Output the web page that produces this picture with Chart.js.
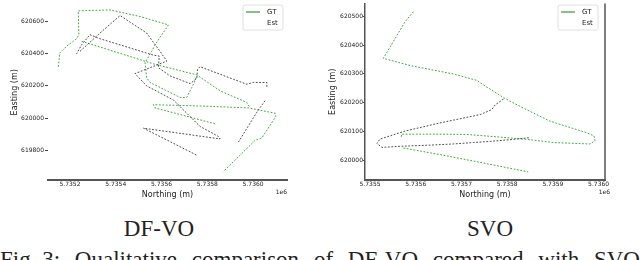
<!DOCTYPE html>
<html lang="en">
<head>
    <meta charset="UTF-8">
    <title>DF-VO vs SVO trajectories</title>
    <script src="https://cdn.jsdelivr.net/npm/chart.js"></script>
    <style>
        body { margin: 0; width: 640px; height: 260px; overflow: hidden; background: #fff; position: relative; }
        .plot { position: absolute; top: 0; width: 300px; height: 200px; }
        #plot-dfvo { left: 0; }
        #plot-svo { left: 320px; }
        .sub { position: absolute; top: 217px; width: 200px; text-align: center; font-family: "Liberation Serif", serif; font-size: 23px; line-height: 23px; color: #222; }
        .caption { position: absolute; left: 0; top: 248px; width: 640px; font-family: "Liberation Serif", serif; font-size: 23px; line-height: 23px; color: #222; white-space: nowrap; }
    </style>
</head>
<body>

    <div class="plot" id="plot-dfvo"><canvas id="chart-dfvo"></canvas></div>
    <div class="plot" id="plot-svo"><canvas id="chart-svo"></canvas></div>

    <div class="sub" style="left:59px;">DF-VO</div>
    <div class="sub" style="left:390px;">SVO</div>
    <div class="caption" style="display:flex; justify-content:space-between;">
        <span>Fig. 3:</span><span>Qualitative</span><span>comparison</span><span>of</span><span>DF-VO</span><span>compared</span><span>with</span><span>SVO</span>
    </div>

    <script>
        // DF-VO: northing / easting in metres (null = break in the track)
        const dfvoGtNorth = [
            5735149, 5735156, 5735185, 5735229, 5735239, 5735236, 5735375, 5735506, 5735630, 5735572,
            5735557, 5735528, 5735535, 5735550, 5735681, 5735710, 5735732, 5735746, 5735754, null,
            5735251, 5735564, 5735754, 5735856, 5735972, 5735987, null,
            5735834, 5735572, 5735564, 5735768, 5735979, 5736096, 5736099, 5736038, 5736009, 5735870
        ];
        const dfvoGtEast = [
            620319, 620405, 620446, 620493, 620518, 620666, 620672, 620631, 620579, 620456,
            620415, 620344, 620251, 620221, 620128, 620128, 620190, 620231, 620262, null,
            620477, 620337, 620268, 620169, 620097, 620063, null,
            619964, 620063, 620083, 620075, 620063, 620030, 620009, 619876, 619862, 619667
        ];
        const dfvoEstNorth = [
            5736052, 5736016, 5735936, null,
            5736060, 5736060, 5736001, 5735972, 5735914, 5735768, 5735757, 5735754, 5735725, 5735637,
            5735586, 5735590, 5735564, 5735331, 5735287, 5735251, 5735229, null,
            5735244, 5735331, 5735419, 5735535, 5735593, 5735623, 5735484, 5735535, 5735652, 5735768,
            5735848, 5735856, 5735521, 5735754
        ];
        const dfvoEstEast = [
            620108, 620036, 619851, null,
            620194, 620221, 620221, 620210, 620241, 620319, 620303, 620247, 620214, 620262,
            620313, 620385, 620391, 620493, 620518, 620456, 620399, null,
            620415, 620528, 620637, 620528, 620415, 620354, 620276, 620200, 620112, 619948,
            619886, 619870, 619937, 619769
        ];

        // SVO
        const svoGtNorth = [
            5735595, 5735577, 5735558, 5735529, 5735588, 5735682, 5735733, 5735755, 5735795, 5735836,
            5735894, 5735974, 5735990, 5735992, 5735981, 5735901, 5735843, 5735799, 5735712, 5735653,
            5735569, 5735568, null,
            5735573, 5735653, 5735719, 5735846
        ];
        const svoGtEast = [
            620516, 620482, 620431, 620354, 620329, 620300, 620278, 620255, 620215, 620181,
            620136, 620096, 620085, 620068, 620057, 620062, 620073, 620079, 620090, 620091,
            620091, 620079, null,
            620043, 620020, 620000, 619960
        ];
        const svoEstNorth = [
            5735792, 5735774, 5735766, 5735741, 5735653, 5735577, 5735522, 5735515, 5735526, 5735566,
            5735631, 5735682, 5735726, 5735763, 5735821, 5735850
        ];
        const svoEstEast = [
            620213, 620193, 620176, 620159, 620130, 620102, 620074, 620059, 620045, 620049,
            620053, 620057, 620062, 620066, 620074, 620079
        ];

        // tick values
        const dfvoNorthTicks = [5735200, 5735400, 5735600, 5735800, 5736000];
        const dfvoEastTicks = [619800, 620000, 620200, 620400, 620600];
        const svoNorthTicks = [5735500, 5735600, 5735700, 5735800, 5735900, 5736000];
        const svoEastTicks = [620000, 620100, 620200, 620300, 620400, 620500];

        const seriesLabels = ['GT', 'Est'];
        const verde = '#2a9f2a';
        const preto = '#383838';

        Chart.defaults.font.family = '"DejaVu Sans", sans-serif';
        Chart.defaults.color = '#222';

        function pontos(norte, leste) {
            return norte.map((n, i) => ({ x: n, y: n === null ? null : leste[i] }));
        }

        // legend box, right spine and the "1e6" offset label
        const extras = {
            id: 'extras',
            afterDraw(chart, args, opts) {
                const ctx = chart.ctx;
                const a = chart.chartArea;
                ctx.save();
                if (opts.rightSpine) {
                    ctx.strokeStyle = '#555';
                    ctx.lineWidth = 1.5;
                    ctx.beginPath();
                    ctx.moveTo(a.right, a.top);
                    ctx.lineTo(a.right, a.bottom);
                    ctx.stroke();
                }
                ctx.fillStyle = '#222';
                ctx.font = '6px "DejaVu Sans"';
                ctx.textAlign = 'right';
                ctx.textBaseline = 'middle';
                ctx.fillText('1e6', a.right + opts.offsetDx, 192);

                // legend
                const bx = a.right - opts.legendRight - 40, by = 5, bw = 40, bh = 25;
                ctx.fillStyle = 'rgba(255,255,255,0.85)';
                ctx.strokeStyle = '#d8d8d8';
                ctx.lineWidth = 0.8;
                ctx.beginPath();
                ctx.roundRect(bx, by, bw, bh, 2);
                ctx.fill();
                ctx.stroke();
                ctx.strokeStyle = verde;
                ctx.lineWidth = 1.2;
                ctx.beginPath();
                ctx.moveTo(bx + 3, 12);
                ctx.lineTo(bx + 17, 12);
                ctx.stroke();
                ctx.fillStyle = '#222';
                ctx.font = '7px "DejaVu Sans"';
                ctx.textAlign = 'left';
                ctx.fillText(seriesLabels[0], bx + 24, 12);
                ctx.fillText(seriesLabels[1], bx + 24, 23);
                ctx.restore();
            }
        };

        function criarGrafico(id, gtN, gtE, estN, estE, northTicks, eastTicks, cfg) {
            return new Chart(document.getElementById(id), {
                type: 'scatter',
                data: {
                    datasets: [
                        { label: seriesLabels[1], data: pontos(estN, estE), showLine: true, spanGaps: false,
                          borderColor: preto, borderWidth: 0.9, borderDash: [1.8, 1.6], pointRadius: 0 },
                        { label: seriesLabels[0], data: pontos(gtN, gtE), showLine: true, spanGaps: false,
                          borderColor: verde, borderWidth: 0.9, borderDash: [1.8, 1.6], pointRadius: 0 }
                    ]
                },
                options: {
                    responsive: true,
                    maintainAspectRatio: false,
                    animation: false,
                    layout: { padding: { top: cfg.top, right: cfg.right, left: 0, bottom: 0 } },
                    plugins: {
                        legend: { display: false },
                        tooltip: { enabled: false },
                        extras: { rightSpine: cfg.rightSpine, offsetDx: cfg.offsetDx, legendRight: cfg.legendRight }
                    },
                    scales: {
                        x: {
                            type: 'linear',
                            min: cfg.xMin, max: cfg.xMax,
                            afterBuildTicks: s => { s.ticks = northTicks.map(v => ({ value: v })); },
                            afterFit: s => { s.height = 20; },
                            grid: { display: false, drawTicks: false },
                            border: { display: true, color: '#555', width: 2 },
                            ticks: { autoSkip: false, maxRotation: 0, padding: 1, font: { size: 6 },
                                     callback: v => (v / 1e6).toFixed(4) },
                            title: { display: true, text: 'Northing (m)', font: { size: 8 }, padding: { top: 0, bottom: 0 } }
                        },
                        y: {
                            type: 'linear',
                            min: cfg.yMin, max: cfg.yMax,
                            afterBuildTicks: s => { s.ticks = eastTicks.map(v => ({ value: v })); },
                            afterFit: s => { s.width = cfg.yWidth; },
                            grid: { display: true, drawOnChartArea: false, drawTicks: true, tickLength: cfg.tickLen, color: '#444' },
                            border: { display: cfg.leftSpine, color: '#555', width: 1.5 },
                            ticks: { autoSkip: false, padding: cfg.tickPad, font: { size: 6 }, callback: v => String(v) },
                            title: { display: true, text: 'Easting (m)', font: { size: 8 }, padding: { top: cfg.titlePad, bottom: 0 } }
                        }
                    }
                },
                plugins: [extras]
            });
        }

        criarGrafico('chart-dfvo', dfvoGtNorth, dfvoGtEast, dfvoEstNorth, dfvoEstEast, dfvoNorthTicks, dfvoEastTicks, {
            top: 3, right: 13, xMin: 5735104, xMax: 5736148, yMin: 619615, yMax: 620705,
            yWidth: 48, tickLen: 3, tickPad: 1, titlePad: 10, leftSpine: false, rightSpine: false,
            offsetDx: 0, legendRight: 4
        });

        criarGrafico('chart-svo', svoGtNorth, svoGtEast, svoEstNorth, svoEstEast, svoNorthTicks, svoEastTicks, {
            top: 0, right: 15, xMin: 5735489, xMax: 5736014, yMin: 619932, yMax: 620544,
            yWidth: 45, tickLen: 2, tickPad: 0, titlePad: 8, leftSpine: true, rightSpine: true,
            offsetDx: 5, legendRight: 7
        });
    </script>

</body>
</html>
